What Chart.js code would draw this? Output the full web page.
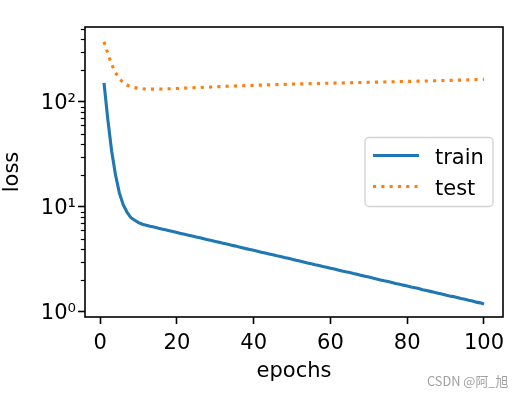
<!DOCTYPE html>
<html><head><meta charset="utf-8">
<script src="https://cdn.jsdelivr.net/npm/chart.js@4"></script>
<style>
html,body{margin:0;padding:0;background:#fff;}
#wrap{position:relative;width:523px;height:396px;overflow:hidden;}
#wm{position:absolute;left:427px;top:371px;font:12.8px "Noto Sans CJK SC","DejaVu Sans",sans-serif;color:#a0a0a0;white-space:nowrap;}
</style></head><body>
<div id="wrap"><canvas id="c" width="523" height="396"></canvas><div id="wm">CSDN @阿_旭</div></div>
<script>
const epochs = Array.from({length: 100}, (_, i) => i + 1);
const trainLoss = [
  152, 68, 34, 20.2, 13.6, 10.5, 8.9, 7.9, 7.47, 7.1,
  6.84, 6.70, 6.56, 6.44, 6.30, 6.18, 6.06, 5.94, 5.83, 5.71,
  5.60, 5.49, 5.39, 5.28, 5.18, 5.08, 4.98, 4.88, 4.79, 4.70,
  4.60, 4.51, 4.43, 4.34, 4.26, 4.17, 4.09, 4.01, 3.94, 3.86,
  3.79, 3.71, 3.64, 3.57, 3.50, 3.43, 3.37, 3.30, 3.24, 3.17,
  3.11, 3.05, 2.99, 2.93, 2.88, 2.82, 2.77, 2.71, 2.66, 2.61,
  2.56, 2.51, 2.46, 2.41, 2.37, 2.32, 2.28, 2.23, 2.19, 2.15,
  2.10, 2.06, 2.02, 1.98, 1.95, 1.91, 1.87, 1.84, 1.80, 1.77,
  1.73, 1.70, 1.67, 1.63, 1.60, 1.57, 1.54, 1.51, 1.48, 1.45,
  1.42, 1.40, 1.37, 1.34, 1.32, 1.29, 1.27, 1.24, 1.22, 1.19
];
const testLoss = [
  375, 290, 228, 190, 167, 153, 145, 140, 137, 135,
  134, 133, 132.7, 132.5, 132.5, 132.8, 133.2, 133.6, 134, 134.5,
  135, 135.5, 136, 136.5, 137, 137.5, 138, 138.5, 139, 139.5,
  140, 140.5, 141, 141.5, 142, 142.4, 142.8, 143.2, 143.6, 144,
  144.4, 144.8, 145.2, 145.6, 146, 146.4, 146.8, 147.2, 147.6, 148,
  148.3, 148.6, 148.9, 149.2, 149.5, 149.8, 150.1, 150.4, 150.7, 151,
  151.3, 151.6, 151.9, 152.2, 152.5, 152.8, 153.1, 153.4, 153.7, 154,
  154.3, 154.6, 154.9, 155.2, 155.5, 155.8, 156.1, 156.4, 156.7, 157,
  157.3, 157.6, 157.9, 158.2, 158.5, 158.9, 159.3, 159.7, 160.1, 160.5,
  160.8, 161.1, 161.4, 161.7, 162, 162.5, 163, 163.5, 164, 164.5
];
const seriesLabels = ['train', 'test'];
const xTicks = [0, 20, 40, 60, 80, 100];
const yMajorTicks = [1, 10, 100];
const yTickLabels = ['10⁰', '10¹', '10²'];
const yMinorTicks = [2, 3, 4, 5, 6, 7, 8, 9, 20, 30, 40, 50, 60, 70, 80, 90, 200, 300, 400, 500];

const FONT = {family: "'DejaVu Sans', sans-serif", size: 21};
const BLUE = '#1f77b4', ORANGE = '#ff7f0e';

const framePlugin = {
  id: 'frame',
  afterDatasetsDraw(chart) {
    const {ctx, chartArea: a} = chart;
    ctx.save();
    ctx.strokeStyle = '#000';
    ctx.lineWidth = 1.6;
    ctx.strokeRect(a.left, a.top, a.right - a.left, a.bottom - a.top);
    ctx.restore();
  }
};

const minorTickPlugin = {
  id: 'minorTicks',
  afterDraw(chart) {
    const {ctx, chartArea: a} = chart;
    const ys = chart.scales.y;
    ctx.save();
    ctx.strokeStyle = '#000';
    ctx.lineWidth = 1.2;
    yMinorTicks.forEach(v => {
      const y = Math.round(ys.getPixelForValue(v)) + 0.5;
      if (y < a.top - 1 || y > a.bottom + 1) return;
      ctx.beginPath();
      ctx.moveTo(a.left, y);
      ctx.lineTo(a.left - 4.2, y);
      ctx.stroke();
    });
    ctx.restore();
  }
};

const legendPlugin = {
  id: 'mplLegend',
  afterDraw(chart) {
    const {ctx, chartArea: a} = chart;
    const w = 128, h = 69;
    const x = a.right - 10 - w;
    const y = (a.top + a.bottom) / 2 - h / 2;
    ctx.save();
    ctx.beginPath();
    ctx.roundRect(x, y, w, h, 4);
    ctx.fillStyle = 'rgba(255,255,255,0.8)';
    ctx.fill();
    ctx.strokeStyle = '#d4d4d4';
    ctx.lineWidth = 1.4;
    ctx.stroke();
    chart.data.datasets.forEach((ds, i) => {
      const ly = y + 18 + i * 31;
      ctx.beginPath();
      ctx.strokeStyle = ds.borderColor;
      ctx.lineWidth = ds.borderWidth;
      ctx.lineCap = 'butt';
      ctx.setLineDash(ds.borderDash || []);
      ctx.moveTo(x + 8, ly);
      ctx.lineTo(x + 54, ly);
      ctx.stroke();
      ctx.setLineDash([]);
      ctx.fillStyle = '#000';
      ctx.font = "21px 'DejaVu Sans', sans-serif";
      ctx.textBaseline = 'alphabetic';
      ctx.textAlign = 'left';
      ctx.fillText(ds.label, x + 70, ly + 8);
    });
    ctx.restore();
  }
};

new Chart(document.getElementById('c'), {
  type: 'line',
  data: {
    datasets: [
      {label: seriesLabels[0], data: epochs.map((e, i) => ({x: e, y: trainLoss[i]})),
       borderColor: BLUE, borderWidth: 3.1, pointRadius: 0, tension: 0, fill: false},
      {label: seriesLabels[1], data: epochs.map((e, i) => ({x: e, y: testLoss[i]})),
       borderColor: ORANGE, borderWidth: 3.1, borderDash: [3.1, 5.2], borderCapStyle: 'butt',
       pointRadius: 0, tension: 0, fill: false}
    ]
  },
  options: {
    responsive: false, animation: false, devicePixelRatio: 1,
    layout: {padding: {left: 0, top: 27, right: 20, bottom: 0}},
    plugins: {legend: {display: false}, tooltip: {enabled: false}},
    scales: {
      x: {
        type: 'linear', min: -3.95, max: 104.95,
        afterFit(s) { s.height = 79; },
        afterBuildTicks(s) { s.ticks = xTicks.map(v => ({value: v})); },
        ticks: {font: FONT, color: '#000', padding: 7, autoSkip: false, maxRotation: 0,
                callback: v => String(v)},
        grid: {drawOnChartArea: false, drawTicks: true, tickLength: 7, tickWidth: 1.6, tickColor: '#000'},
        border: {display: false},
        title: {display: true, text: 'epochs', font: FONT, color: '#000', padding: {top: 0, bottom: 12}}
      },
      y: {
        type: 'logarithmic', min: 0.895, max: 518,
        afterFit(s) { s.width = 85; },
        afterBuildTicks(s) { s.ticks = yMajorTicks.concat(yMinorTicks).map(v => ({value: v})); },
        ticks: {font: FONT, color: '#000', padding: 2, autoSkip: false, labelOffset: 2,
                callback: v => { const i = yMajorTicks.indexOf(v); return i >= 0 ? yTickLabels[i] : ''; }},
        grid: {drawOnChartArea: false, drawTicks: true, tickLength: 7, tickWidth: 1.6,
               tickColor: c => (c.tick && yMajorTicks.includes(c.tick.value)) ? '#000' : 'rgba(0,0,0,0)'},
        border: {display: false},
        title: {display: true, text: 'loss', font: FONT, color: '#000', padding: {top: 0, bottom: 0}}
      }
    }
  },
  plugins: [framePlugin, minorTickPlugin, legendPlugin]
});
</script>
</body></html>
